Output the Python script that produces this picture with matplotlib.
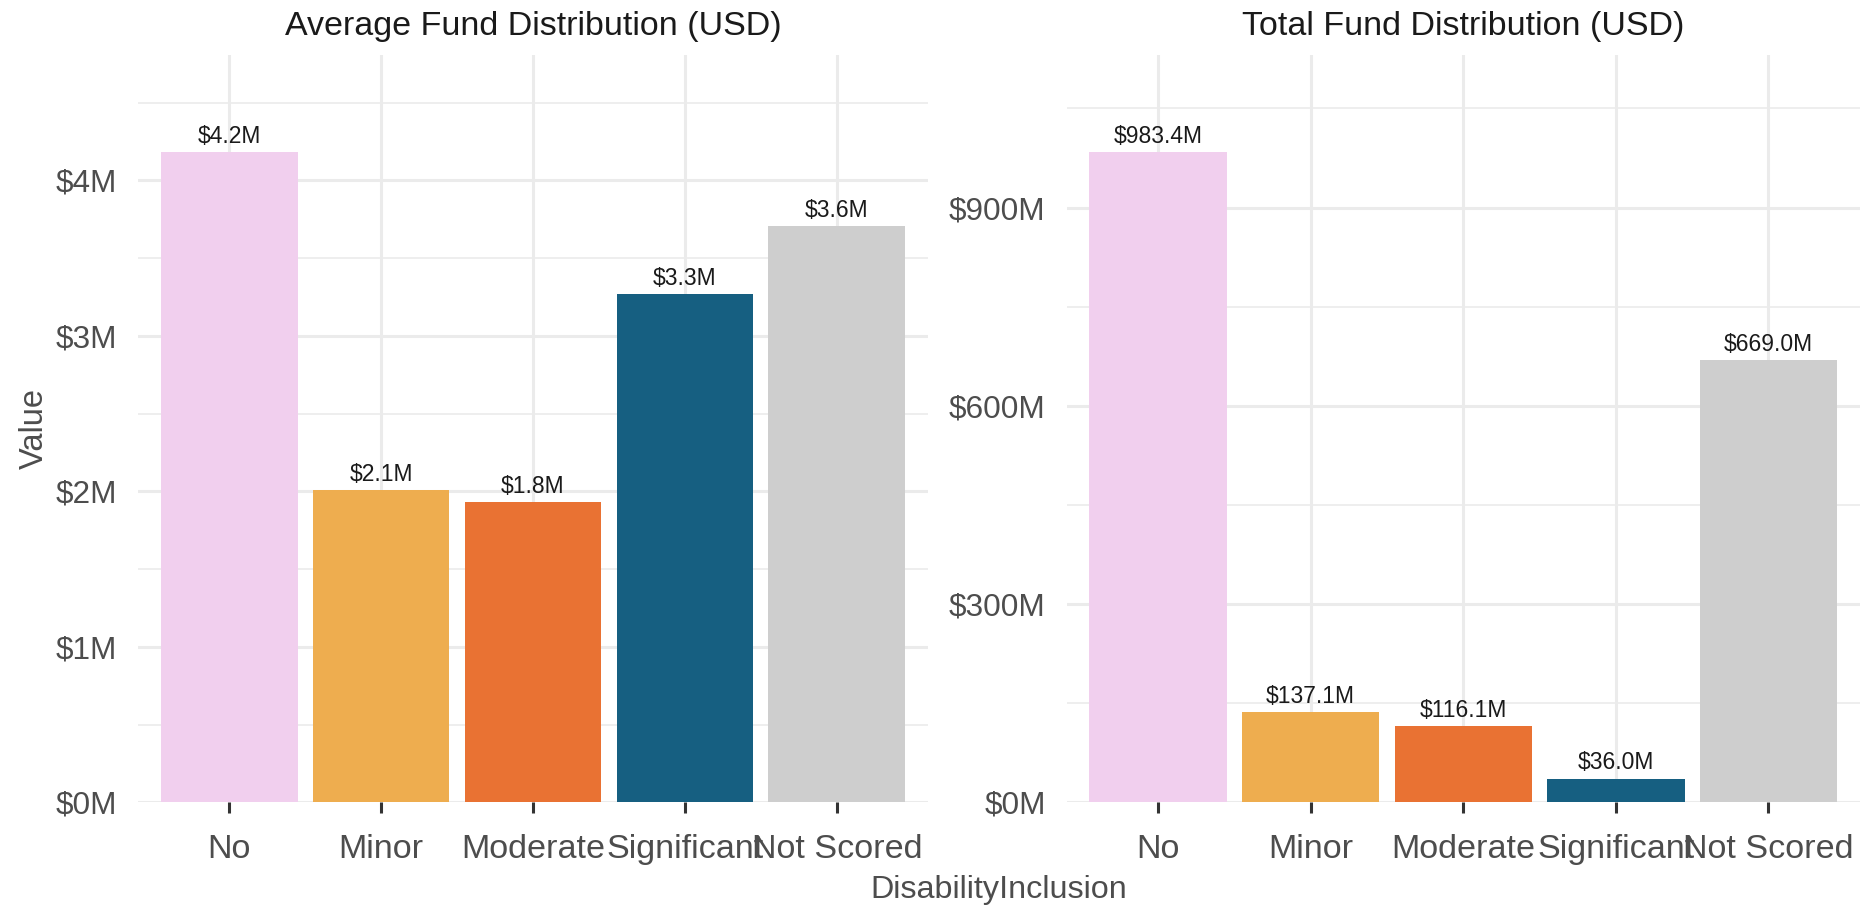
"""Average and total fund distribution by disability inclusion score."""

import matplotlib
matplotlib.use("Agg")
import matplotlib.pyplot as plt  # noqa: E402
from matplotlib.ticker import FuncFormatter, MultipleLocator  # noqa: E402

CATEGORIES = ["No", "Minor", "Moderate", "Significant", "Not Scored"]
COLOURS = ["#F1CFEE", "#EEAD4F", "#E97233", "#165F81", "#CECECE"]

# millions of USD
AVG_VALUES = [4.18, 2.01, 1.93, 3.27, 3.71]
AVG_LABELS = ["$4.2M", "$2.1M", "$1.8M", "$3.3M", "$3.6M"]
TOTAL_VALUES = [983.4, 137.1, 116.1, 36.0, 669.0]
TOTAL_LABELS = ["$983.4M", "$137.1M", "$116.1M", "$36.0M", "$669.0M"]

GRID = "#EBEBEB"
TEXT_GREY = "#4D4D4D"

plt.rcParams["font.family"] = ["Liberation Sans", "DejaVu Sans"]

W, H = 1867, 906
fig = plt.figure(figsize=(W / 100, H / 100), dpi=100)


def panel(rect, values, labels, title, major, minor):
    ax = fig.add_axes(rect)
    x = range(len(CATEGORIES))
    ax.bar(x, values, width=0.9, color=COLOURS, zorder=2)
    for xi, v, lab in zip(x, values, labels):
        ax.annotate(lab, xy=(xi, v), xytext=(0, 6.5), textcoords="offset points",
                    ha="center", va="baseline", fontsize=16.5, color="#1A1A1A",
                    zorder=3)
    ax.set_xlim(-0.6, len(CATEGORIES) - 0.4)
    ax.set_ylim(0, max(values) * 1.15)
    ax.set_xticks(list(x))
    ax.set_xticklabels(CATEGORIES)
    ax.yaxis.set_major_locator(MultipleLocator(major))
    ax.yaxis.set_minor_locator(MultipleLocator(minor))
    ax.yaxis.set_major_formatter(FuncFormatter(lambda v, _: f"${v:.0f}M"))
    ax.grid(True, which="major", color=GRID, linewidth=2.2, zorder=0)
    ax.grid(True, which="minor", axis="y", color=GRID, linewidth=1.2, zorder=0)
    ax.set_axisbelow(True)
    for s in ax.spines.values():
        s.set_visible(False)
    ax.tick_params(axis="x", length=7.9, width=2.2, color="#333333",
                   labelsize=24.6, labelcolor=TEXT_GREY, pad=15)
    ax.tick_params(axis="y", which="both", length=0, labelsize=22.7,
                   labelcolor=TEXT_GREY, pad=15)
    ax.set_title(title, fontsize=24.5, color="#1A1A1A", pad=14.4)
    return ax


left = panel([138 / W, 1 - 802.3 / H, 790 / W, 747.3 / H],
             AVG_VALUES, AVG_LABELS, "Average Fund Distribution (USD)", 1, 0.5)
left.set_ylabel("Value", fontsize=23.5, color=TEXT_GREY)
left.yaxis.set_label_coords((50 - 138) / 790, 0.5)

panel([1066.5 / W, 1 - 802.3 / H, 793.5 / W, 747.3 / H],
      TOTAL_VALUES, TOTAL_LABELS, "Total Fund Distribution (USD)", 300, 150)

fig.text(999 / W, 1 - 890 / H, "DisabilityInclusion", ha="center", va="center",
         fontsize=23.3, color=TEXT_GREY)

fig.savefig("out.png", dpi=100)
